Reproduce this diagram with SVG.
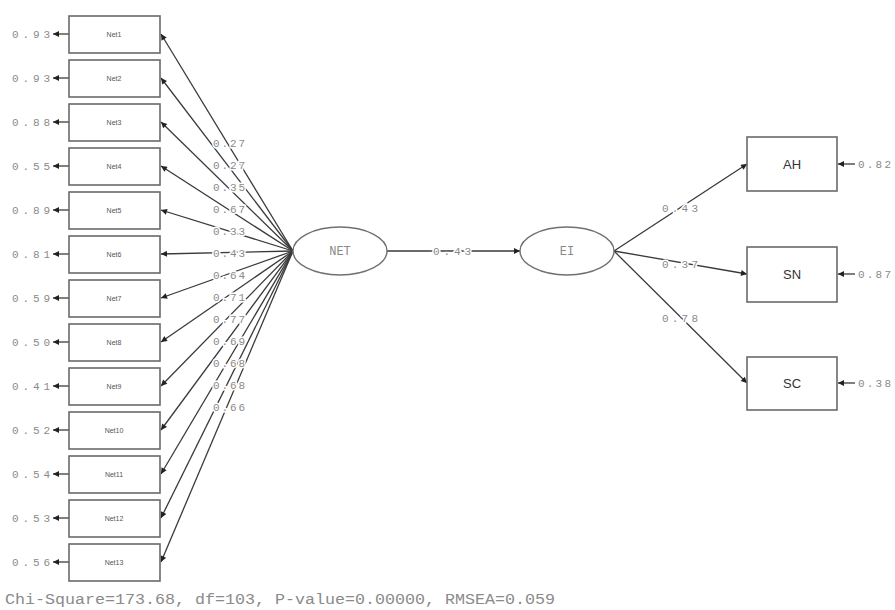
<svg xmlns="http://www.w3.org/2000/svg" width="895" height="610" viewBox="0 0 895 610">
<style>
.box{fill:#fff;stroke:#6a6a6a;stroke-width:1.6}
.ell{fill:#fff;stroke:#707070;stroke-width:1.4}
.ln{stroke:#3a3a3a;stroke-width:1.3;fill:none}
.num{font-family:"Liberation Mono",monospace;font-size:11px;fill:#8a8a8a}
.lab{font-family:"Liberation Mono",monospace;font-size:11px;fill:#8a8a8a;stroke:#fff;stroke-width:3px;paint-order:stroke}
.nt{font-family:"Liberation Sans",Arial,sans-serif;font-size:7px;fill:#555;text-anchor:middle}
.big{font-family:"Liberation Sans",Arial,sans-serif;font-size:13px;fill:#333;text-anchor:middle}
.lv{font-family:"Liberation Mono",monospace;font-size:12px;fill:#8a8a8a;text-anchor:middle}
.foot{font-family:"Liberation Mono",monospace;font-size:14px;fill:#8a8a8a}
</style>
<defs>
<marker id="ah" viewBox="0 0 10 10" refX="10" refY="5" markerWidth="9" markerHeight="6" markerUnits="userSpaceOnUse" orient="auto">
<path d="M0,0 L10,5 L0,10 Z" fill="#222"/>
</marker>
</defs>

<g id="connectors">
<line class="ln" x1="293" y1="251" x2="161" y2="34" marker-end="url(#ah)"/>
<line class="ln" x1="293" y1="251" x2="161" y2="78" marker-end="url(#ah)"/>
<line class="ln" x1="293" y1="251" x2="161" y2="122" marker-end="url(#ah)"/>
<line class="ln" x1="293" y1="251" x2="161" y2="166" marker-end="url(#ah)"/>
<line class="ln" x1="293" y1="251" x2="161" y2="210" marker-end="url(#ah)"/>
<line class="ln" x1="293" y1="251" x2="161" y2="254" marker-end="url(#ah)"/>
<line class="ln" x1="293" y1="251" x2="161" y2="298" marker-end="url(#ah)"/>
<line class="ln" x1="293" y1="251" x2="161" y2="342" marker-end="url(#ah)"/>
<line class="ln" x1="293" y1="251" x2="161" y2="386" marker-end="url(#ah)"/>
<line class="ln" x1="293" y1="251" x2="161" y2="430" marker-end="url(#ah)"/>
<line class="ln" x1="293" y1="251" x2="161" y2="474" marker-end="url(#ah)"/>
<line class="ln" x1="293" y1="251" x2="161" y2="518" marker-end="url(#ah)"/>
<line class="ln" x1="293" y1="251" x2="161" y2="562" marker-end="url(#ah)"/>
<!-- error arrows left -->
<line class="ln" x1="69" y1="34" x2="53" y2="34" marker-end="url(#ah)"/>
<line class="ln" x1="69" y1="78" x2="53" y2="78" marker-end="url(#ah)"/>
<line class="ln" x1="69" y1="122" x2="53" y2="122" marker-end="url(#ah)"/>
<line class="ln" x1="69" y1="166" x2="53" y2="166" marker-end="url(#ah)"/>
<line class="ln" x1="69" y1="210" x2="53" y2="210" marker-end="url(#ah)"/>
<line class="ln" x1="69" y1="254" x2="53" y2="254" marker-end="url(#ah)"/>
<line class="ln" x1="69" y1="298" x2="53" y2="298" marker-end="url(#ah)"/>
<line class="ln" x1="69" y1="342" x2="53" y2="342" marker-end="url(#ah)"/>
<line class="ln" x1="69" y1="386" x2="53" y2="386" marker-end="url(#ah)"/>
<line class="ln" x1="69" y1="430" x2="53" y2="430" marker-end="url(#ah)"/>
<line class="ln" x1="69" y1="474" x2="53" y2="474" marker-end="url(#ah)"/>
<line class="ln" x1="69" y1="518" x2="53" y2="518" marker-end="url(#ah)"/>
<line class="ln" x1="69" y1="562" x2="53" y2="562" marker-end="url(#ah)"/>
<!-- NET to EI -->
<line class="ln" x1="387" y1="251" x2="520" y2="251" marker-end="url(#ah)"/>
<!-- EI to indicators -->
<line class="ln" x1="614" y1="251" x2="747" y2="164" marker-end="url(#ah)"/>
<line class="ln" x1="614" y1="251" x2="747" y2="274" marker-end="url(#ah)"/>
<line class="ln" x1="614" y1="251" x2="747" y2="383" marker-end="url(#ah)"/>
<!-- error arrows right -->
<line class="ln" x1="855" y1="164" x2="838" y2="164" marker-end="url(#ah)"/>
<line class="ln" x1="855" y1="274" x2="838" y2="274" marker-end="url(#ah)"/>
<line class="ln" x1="855" y1="383" x2="838" y2="383" marker-end="url(#ah)"/>
<!-- loading labels -->
<text class="lab" x="213" y="147" textLength="32">0.27</text>
<text class="lab" x="213" y="169" textLength="32">0.27</text>
<text class="lab" x="213" y="191" textLength="32">0.35</text>
<text class="lab" x="213" y="213" textLength="32">0.67</text>
<text class="lab" x="213" y="235" textLength="32">0.33</text>
<text class="lab" x="213" y="257" textLength="32">0.43</text>
<text class="lab" x="213" y="279" textLength="32">0.64</text>
<text class="lab" x="213" y="301" textLength="32">0.71</text>
<text class="lab" x="213" y="323" textLength="32">0.77</text>
<text class="lab" x="213" y="345" textLength="32">0.69</text>
<text class="lab" x="213" y="367" textLength="32">0.68</text>
<text class="lab" x="213" y="389" textLength="32">0.68</text>
<text class="lab" x="213" y="411" textLength="32">0.66</text>
<text class="lab" x="433" y="255" textLength="38">0.43</text>
<text class="lab" x="662" y="212" textLength="36">0.43</text>
<text class="lab" x="662" y="268" textLength="36">0.37</text>
<text class="lab" x="662" y="322" textLength="36">0.78</text>
</g>

<g id="err-left">
<text class="num" x="12" y="38" textLength="38">0.93</text>
<text class="num" x="12" y="82" textLength="38">0.93</text>
<text class="num" x="12" y="126" textLength="38">0.88</text>
<text class="num" x="12" y="170" textLength="38">0.55</text>
<text class="num" x="12" y="214" textLength="38">0.89</text>
<text class="num" x="12" y="258" textLength="38">0.81</text>
<text class="num" x="12" y="302" textLength="38">0.59</text>
<text class="num" x="12" y="346" textLength="38">0.50</text>
<text class="num" x="12" y="390" textLength="38">0.41</text>
<text class="num" x="12" y="434" textLength="38">0.52</text>
<text class="num" x="12" y="478" textLength="38">0.54</text>
<text class="num" x="12" y="522" textLength="38">0.53</text>
<text class="num" x="12" y="566" textLength="38">0.56</text>
</g>

<g id="Net1"><rect class="box" x="69" y="16" width="91" height="37"/><text class="nt" x="114" y="37">Net1</text></g>
<g id="Net2"><rect class="box" x="69" y="60" width="91" height="37"/><text class="nt" x="114" y="81">Net2</text></g>
<g id="Net3"><rect class="box" x="69" y="104" width="91" height="37"/><text class="nt" x="114" y="125">Net3</text></g>
<g id="Net4"><rect class="box" x="69" y="148" width="91" height="37"/><text class="nt" x="114" y="169">Net4</text></g>
<g id="Net5"><rect class="box" x="69" y="192" width="91" height="37"/><text class="nt" x="114" y="213">Net5</text></g>
<g id="Net6"><rect class="box" x="69" y="236" width="91" height="37"/><text class="nt" x="114" y="257">Net6</text></g>
<g id="Net7"><rect class="box" x="69" y="280" width="91" height="37"/><text class="nt" x="114" y="301">Net7</text></g>
<g id="Net8"><rect class="box" x="69" y="324" width="91" height="37"/><text class="nt" x="114" y="345">Net8</text></g>
<g id="Net9"><rect class="box" x="69" y="368" width="91" height="37"/><text class="nt" x="114" y="389">Net9</text></g>
<g id="Net10"><rect class="box" x="69" y="412" width="91" height="37"/><text class="nt" x="114" y="433">Net10</text></g>
<g id="Net11"><rect class="box" x="69" y="456" width="91" height="37"/><text class="nt" x="114" y="477">Net11</text></g>
<g id="Net12"><rect class="box" x="69" y="500" width="91" height="37"/><text class="nt" x="114" y="521">Net12</text></g>
<g id="Net13"><rect class="box" x="69" y="544" width="91" height="37"/><text class="nt" x="114" y="565">Net13</text></g>

<g id="NET"><ellipse class="ell" cx="340" cy="251" rx="47" ry="24"/><text class="lv" x="340" y="255">NET</text></g>
<g id="EI"><ellipse class="ell" cx="567" cy="251" rx="47" ry="24"/><text class="lv" x="567" y="255">EI</text></g>

<g id="AH"><rect class="box" x="747" y="137" width="90" height="54"/><text class="big" x="792" y="169">AH</text></g>
<g id="SN"><rect class="box" x="747" y="247" width="90" height="55"/><text class="big" x="792" y="279">SN</text></g>
<g id="SC"><rect class="box" x="747" y="357" width="90" height="53"/><text class="big" x="792" y="388">SC</text></g>

<g id="err-right">
<text class="num" x="858" y="168" textLength="33">0.82</text>
<text class="num" x="858" y="278" textLength="33">0.87</text>
<text class="num" x="858" y="387" textLength="33">0.38</text>
</g>

<text class="foot" x="5" y="604" textLength="550" lengthAdjust="spacingAndGlyphs">Chi-Square=173.68, df=103, P-value=0.00000, RMSEA=0.059</text>
</svg>
